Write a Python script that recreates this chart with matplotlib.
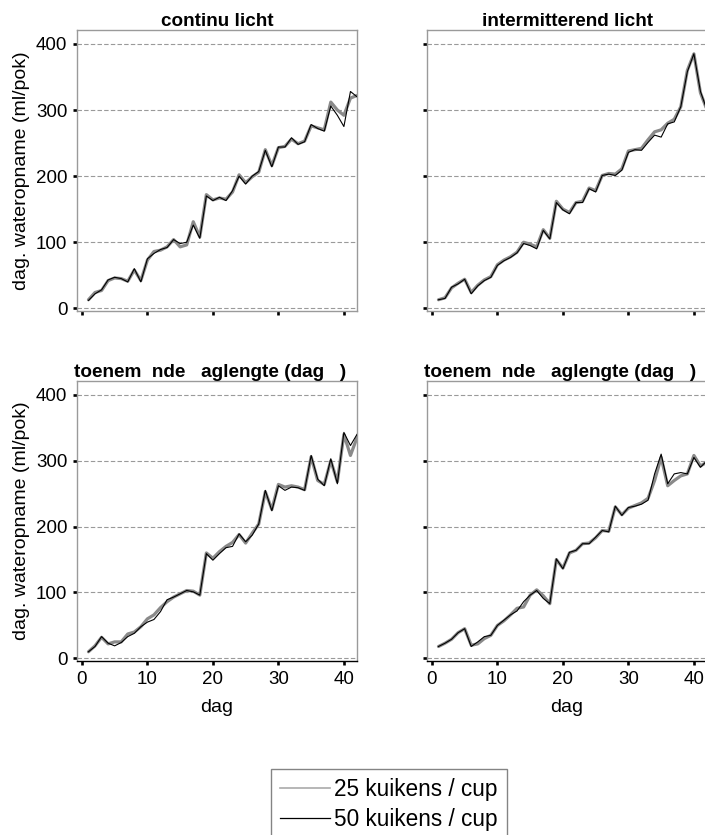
import matplotlib
matplotlib.use("Agg")
import matplotlib.pyplot as plt
from matplotlib.lines import Line2D

plt.rcParams['font.family'] = ['Liberation Sans', 'DejaVu Sans']

days = list(range(1, 43))

# Panel A: continu licht
a_50 = [12, 22, 28, 43, 47, 45, 40, 60, 40, 75, 83, 89, 92, 104, 98, 100, 126, 106, 170, 163,
        168, 163, 178, 200, 188, 200, 207, 239, 214, 244, 244, 258, 248, 252, 278, 272, 268, 306,
        292, 275, 328, 320]
a_25 = [13, 24, 27, 42, 46, 45, 41, 58, 42, 73, 86, 88, 93, 104, 93, 96, 131, 108, 172, 164,
        167, 165, 176, 202, 190, 199, 206, 240, 216, 243, 245, 256, 249, 253, 276, 273, 270, 312,
        300, 292, 318, 322]

# Panel B: intermitterend licht
b_50 = [13, 15, 32, 37, 44, 22, 34, 42, 47, 65, 72, 77, 84, 98, 95, 90, 118, 105, 160, 149,
        143, 160, 160, 181, 176, 201, 203, 201, 209, 236, 240, 239, 251, 262, 259, 279, 282, 305,
        358, 385, 328, 300]
b_25 = [13, 16, 31, 38, 44, 24, 35, 43, 48, 66, 73, 78, 85, 100, 97, 93, 119, 106, 162, 150,
        145, 160, 162, 182, 178, 201, 204, 203, 211, 238, 240, 242, 255, 267, 270, 280, 286, 305,
        360, 385, 326, 300]

# Panel C: toenemende daglengte (left)
c_50 = [10, 18, 33, 23, 19, 24, 33, 38, 48, 55, 59, 71, 89, 93, 98, 103, 101, 96, 159, 149,
        159, 168, 170, 189, 177, 187, 204, 255, 224, 262, 255, 260, 259, 255, 308, 272, 262, 303,
        265, 343, 323, 340]
c_25 = [10, 19, 32, 22, 25, 25, 37, 40, 48, 60, 66, 77, 86, 93, 98, 103, 102, 96, 160, 152,
        162, 170, 176, 188, 175, 190, 204, 253, 226, 264, 260, 262, 260, 256, 306, 270, 264, 300,
        268, 340, 308, 335]

# Panel D: toenemende daglengte (right)
d_50 = [18, 23, 29, 39, 45, 18, 25, 33, 35, 50, 58, 66, 72, 86, 96, 103, 91, 83, 151, 136,
        161, 164, 174, 174, 184, 194, 192, 231, 217, 229, 231, 234, 240, 280, 310, 265, 280, 282,
        280, 305, 290, 300]
d_25 = [18, 23, 29, 39, 45, 20, 22, 30, 35, 50, 57, 66, 76, 78, 96, 104, 95, 83, 150, 137,
        160, 164, 174, 175, 183, 194, 193, 230, 218, 228, 232, 236, 243, 270, 305, 262, 270, 277,
        280, 308, 292, 298]

titles = ["continu licht", "intermitterend licht",
          "toenem  nde   aglengte (dag   )", "toenem  nde   aglengte (dag   )"]
series = [(a_25, a_50), (b_25, b_50), (c_25, c_50), (d_25, d_50)]
yticks = [0, 100, 200, 300, 400]
xticks = [0, 10, 20, 30, 40]
labels = ["25 kuikens / cup", "50 kuikens / cup"]
ylabel = "dag. wateropname (ml/pok)"
xlabel = "dag"

W, H = 705, 835
fig = plt.figure(figsize=(W / 100, H / 100), dpi=100)

def px_axes(l, t, r, b):
    return [l / W, 1 - b / H, (r - l) / W, (b - t) / H]

boxes = [(77, 30, 357, 311), (427, 30, 707, 311),
         (77, 381, 357, 661), (427, 381, 707, 661)]

for i, (box, (s25, s50), title) in enumerate(zip(boxes, series, titles)):
    ax = fig.add_axes(px_axes(*box))
    ax.set_xlim(-0.75, 42.0)
    ax.set_ylim(-4, 421)
    for yv in yticks:
        ax.axhline(yv, color='#9a9a9a', lw=0.8, ls=(0, (4, 2)), zorder=1)
    ax.plot(days, s25, color='#8a8a8a', lw=2.3, zorder=2,
            solid_joinstyle='round', solid_capstyle='round')
    ax.plot(days, s50, color='black', lw=0.8, zorder=3, solid_joinstyle='round')
    for sp in ax.spines.values():
        sp.set_color('#9a9a9a')
        sp.set_linewidth(1.0)
    ax.set_yticks(yticks)
    ax.set_xticks(xticks)
    ax.tick_params(direction='out', length=3, width=1.9, color='black',
                   labelsize=13.5, pad=4)
    if i >= 2:
        ax.spines['bottom'].set_color('black')
        ax.set_xlabel(xlabel, fontsize=14, labelpad=8)
        ax.set_title(title, fontsize=13.7, fontweight='bold', loc='left', pad=1.5, x=-0.01)
    else:
        ax.set_xticklabels([])
        ax.set_title(title, fontsize=13.6, fontweight='bold', pad=3)
    if i % 2 == 0:
        ax.set_ylabel(ylabel, fontsize=14, labelpad=4)
    else:
        ax.set_yticklabels([])

handles = [Line2D([], [], color='#aaaaaa', lw=1.2),
           Line2D([], [], color='black', lw=0.9)]
fig.legend(handles, labels, loc='upper left', bbox_to_anchor=(271 / W, 1 - 769 / H),
           fontsize=16.3, frameon=True, fancybox=False, edgecolor='#666666',
           handlelength=2.2, handletextpad=0.2, borderpad=0.4, labelspacing=0.3,
           borderaxespad=0)

fig.savefig("out.png", dpi=100)
